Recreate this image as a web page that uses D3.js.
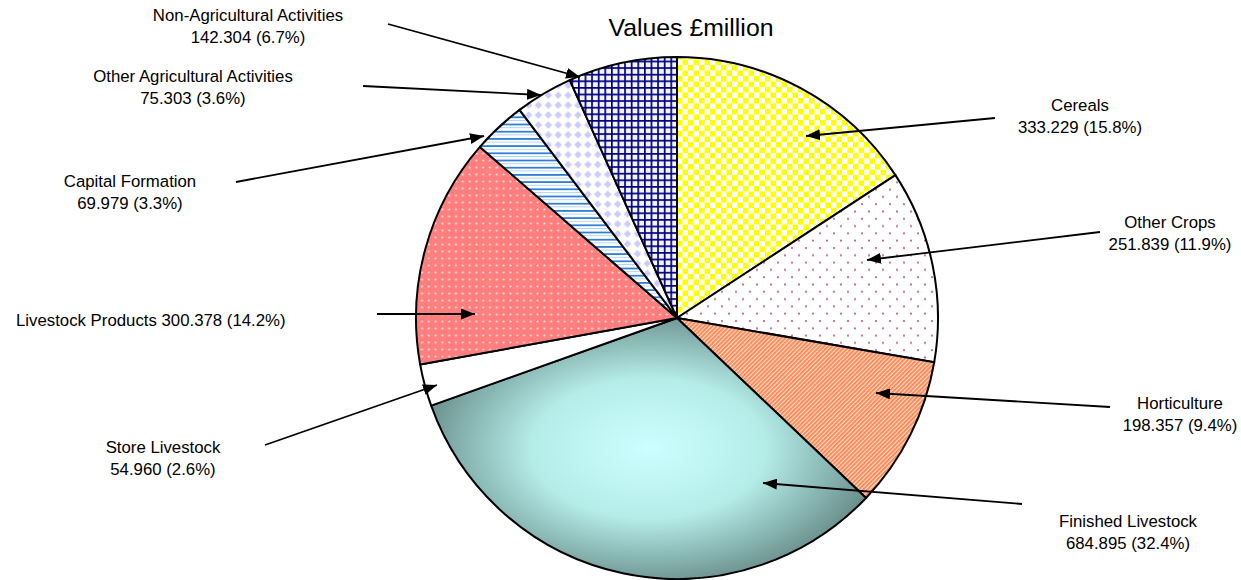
<!DOCTYPE html>
<html>
<head>
<meta charset="utf-8">
<script src="https://cdn.jsdelivr.net/npm/d3@7"></script>
<style>
  body { margin: 0; background: #fff; }
  svg { display: block; font-family: "Liberation Sans", Arial, sans-serif; }
</style>
</head>
<body>
<svg id="chart" width="1241" height="580"></svg>
<script>
// data (clockwise from 12 o'clock)
var categories = ['Cereals', 'Other Crops', 'Horticulture', 'Finished Livestock', 'Store Livestock',
	'Livestock Products', 'Capital Formation', 'Other Agricultural Activities', 'Non-Agricultural Activities']
var values = [333.229, 251.839, 198.357, 684.895, 54.960, 300.378, 69.979, 75.303, 142.304]
var fills = ['url(#p-cereals)', 'url(#p-crops)', 'url(#p-hort)', 'url(#g-finished)', '#ffffff',
	'url(#p-lsprod)', 'url(#p-capital)', 'url(#p-otheragri)', 'url(#p-nonagri)']
var title = 'Values £million'

// callout layout: text anchor point, where the leader starts, where the arrow points
var callouts = [
	{tx: 1080, ty: 111, lx: 995, ly: 118, ax: 806, ay: 136},
	{tx: 1170, ty: 228, lx: 1100, ly: 232, ax: 867, ay: 260},
	{tx: 1180, ty: 409, lx: 1110, ly: 407, ax: 876, ay: 393},
	{tx: 1128, ty: 527, lx: 1022, ly: 504, ax: 763, ay: 483},
	{tx: 163, ty: 453, lx: 265, ly: 445, ax: 437, ay: 385},
	{tx: 16, ty: 326, lx: 377, ly: 314, ax: 475, ay: 314, oneLine: true},
	{tx: 130, ty: 187, lx: 236, ly: 182, ax: 484, ay: 136},
	{tx: 193, ty: 82, lx: 363, ly: 86, ax: 541, ay: 95},
	{tx: 248, ty: 21, lx: 388, ly: 24, ax: 580, ay: 77}
]

var svg = d3.select('#chart')
var cx = 677, cy = 318, radius = 261
var fmt = d3.format('.3f')
var total = d3.sum(values)

var defs = svg.append('defs')

// small checkerboard, yellow
var p = defs.append('pattern').attr('id', 'p-cereals').attr('patternUnits', 'userSpaceOnUse')
	.attr('width', 11).attr('height', 11)
p.append('rect').attr('width', 11).attr('height', 11).attr('fill', '#fff')
p.append('rect').attr('width', 5.5).attr('height', 5.5).attr('fill', '#ffff00')
p.append('rect').attr('x', 5.5).attr('y', 5.5).attr('width', 5.5).attr('height', 5.5).attr('fill', '#ffff00')

// sparse mauve dots
p = defs.append('pattern').attr('id', 'p-crops').attr('patternUnits', 'userSpaceOnUse')
	.attr('width', 14).attr('height', 14.6)
p.append('rect').attr('width', 14).attr('height', 14.6).attr('fill', '#fff')
p.append('circle').attr('cx', 3).attr('cy', 3).attr('r', 1.1).attr('fill', '#b4608c')
p.append('circle').attr('cx', 10).attr('cy', 10.3).attr('r', 1.1).attr('fill', '#b4608c')

// thin diagonal stripes salmon / cream
p = defs.append('pattern').attr('id', 'p-hort').attr('patternUnits', 'userSpaceOnUse')
	.attr('width', 3).attr('height', 3).attr('patternTransform', 'rotate(45)')
p.append('rect').attr('width', 3).attr('height', 3).attr('fill', '#ffe6a0')
p.append('rect').attr('width', 1.8).attr('height', 3).attr('fill', '#ff7f6c')

// shaded "from centre" fill
var g = defs.append('radialGradient').attr('id', 'g-finished')
	.attr('cx', 0.5).attr('cy', 0.5).attr('r', 0.6)
g.append('stop').attr('offset', '0%').attr('stop-color', '#ccffff')
g.append('stop').attr('offset', '45%').attr('stop-color', '#b4ecE8')
g.append('stop').attr('offset', '100%').attr('stop-color', '#567674')

// salmon with white dots
p = defs.append('pattern').attr('id', 'p-lsprod').attr('patternUnits', 'userSpaceOnUse')
	.attr('width', 6.8).attr('height', 7)
p.append('rect').attr('width', 6.8).attr('height', 7).attr('fill', '#ff7f7f')
p.append('circle').attr('cx', 3.4).attr('cy', 3.5).attr('r', 1).attr('fill', '#ffe6e6')

// horizontal blue stripes
p = defs.append('pattern').attr('id', 'p-capital').attr('patternUnits', 'userSpaceOnUse')
	.attr('width', 7).attr('height', 7.2)
p.append('rect').attr('width', 7).attr('height', 7.2).attr('fill', '#fff')
p.append('rect').attr('y', 0).attr('width', 7).attr('height', 1.8).attr('fill', '#2f80d8')
p.append('rect').attr('y', 3.6).attr('width', 7).attr('height', 1).attr('fill', '#b4d2f2')

// lavender diamonds
p = defs.append('pattern').attr('id', 'p-otheragri').attr('patternUnits', 'userSpaceOnUse')
	.attr('width', 14).attr('height', 14).attr('patternTransform', 'rotate(45)')
p.append('rect').attr('width', 14).attr('height', 14).attr('fill', '#fff')
p.append('rect').attr('x', 0.8).attr('y', 0.8).attr('width', 5.4).attr('height', 5.4).attr('fill', '#ccccff')
p.append('rect').attr('x', 7.8).attr('y', 7.8).attr('width', 5.4).attr('height', 5.4).attr('fill', '#ccccff')

// navy grid
p = defs.append('pattern').attr('id', 'p-nonagri').attr('patternUnits', 'userSpaceOnUse')
	.attr('width', 6.6).attr('height', 6.6)
p.append('rect').attr('width', 6.6).attr('height', 6.6).attr('fill', '#f4f4fc')
p.append('rect').attr('width', 1.7).attr('height', 6.6).attr('fill', '#000080')
p.append('rect').attr('width', 6.6).attr('height', 1.7).attr('fill', '#000080')

defs.append('marker').attr('id', 'arrow')
	.attr('markerUnits', 'userSpaceOnUse')
	.attr('viewBox', '0 0 14 11')
	.attr('markerWidth', 14).attr('markerHeight', 11)
	.attr('refX', 14).attr('refY', 5.5)
	.attr('orient', 'auto')
	.append('path').attr('d', 'M0,0L14,5.5L0,11Z').attr('fill', '#000')

var pie = d3.pie().sort(null).value(function(d) { return d })
var arc = d3.arc().innerRadius(0).outerRadius(radius)
var arcs = pie(values)

var gPie = svg.append('g').attr('transform', 'translate(' + cx + ',' + cy + ')')

gPie.selectAll('path.slice')
	.data(arcs)
	.enter()
	.append('path')
	.attr('class', 'slice')
	.attr('d', arc)
	.attr('fill', function(d, i) { return fills[i] })
	.attr('stroke', '#000')
	.attr('stroke-width', 2)
	.attr('stroke-linejoin', 'round')

svg.append('text')
	.attr('x', 691).attr('y', 36)
	.attr('text-anchor', 'middle')
	.attr('font-size', 24.8)
	.attr('fill', '#000')
	.text(title)

var gLab = svg.append('g')

gLab.selectAll('line.leader')
	.data(callouts)
	.enter()
	.append('line')
	.attr('class', 'leader')
	.attr('x1', function(c) { return c.lx })
	.attr('y1', function(c) { return c.ly })
	.attr('x2', function(c) { return c.ax })
	.attr('y2', function(c) { return c.ay })
	.attr('stroke', '#000')
	.attr('stroke-width', 1.8)
	.attr('marker-end', 'url(#arrow)')

var texts = gLab.selectAll('text.lab')
	.data(callouts)
	.enter()
	.append('text')
	.attr('class', 'lab')
	.attr('font-size', 16.8)
	.attr('fill', '#000')
	.attr('text-anchor', function(c) { return c.oneLine ? 'start' : 'middle' })
	.attr('x', function(c) { return c.tx })
	.attr('y', function(c) { return c.ty })

texts.each(function(c, i) {
	var t = d3.select(this)
	var valTxt = fmt(values[i]) + ' (' + d3.format('.1f')(values[i] / total * 100) + '%)'
	if (c.oneLine) {
		t.text(categories[i] + ' ' + valTxt)
	} else {
		t.append('tspan').attr('x', c.tx).text(categories[i])
		t.append('tspan').attr('x', c.tx).attr('dy', 22).text(valTxt)
	}
})
</script>
</body>
</html>
